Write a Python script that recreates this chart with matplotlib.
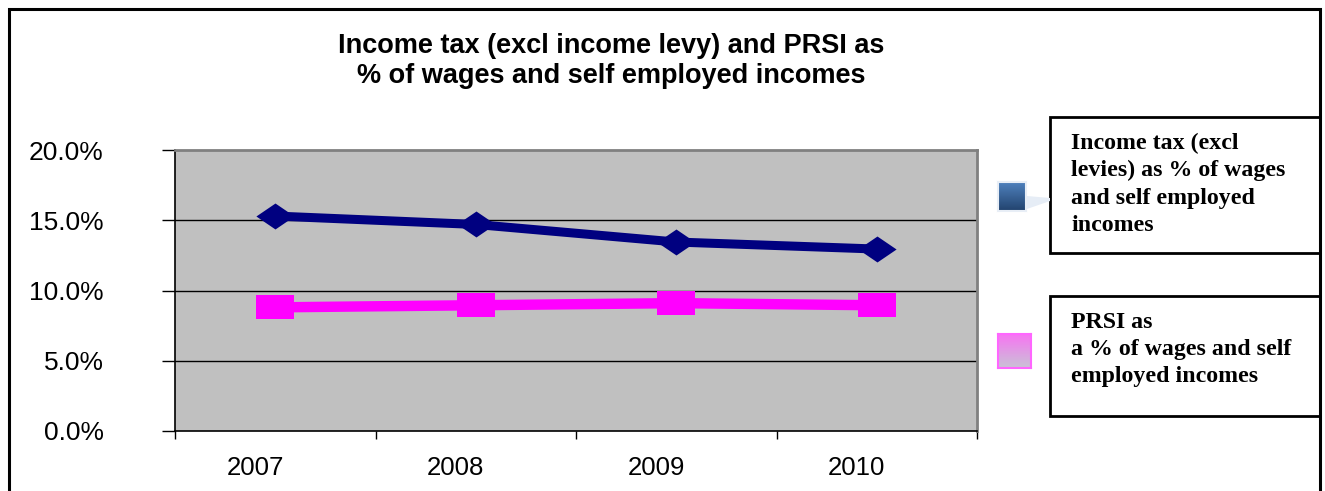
import matplotlib
matplotlib.use("Agg")
import matplotlib.pyplot as plt
import numpy as np
from matplotlib.path import Path
from matplotlib.patches import Rectangle, Polygon
from matplotlib.transforms import ScaledTranslation

# ---- data ----
years = ["2007", "2008", "2009", "2010"]
income_tax = [15.3, 14.7, 13.45, 12.95]
prsi = [8.8, 8.95, 9.1, 8.95]
y_ticks = [0, 5, 10, 15, 20]
y_tick_labels = ["0.0%", "5.0%", "10.0%", "15.0%", "20.0%"]
title_lines = ["Income tax (excl income levy) and PRSI as", "% of wages and self employed incomes"]
legend_income = "Income tax (excl\nlevies) as % of wages\nand self employed\nincomes"
legend_prsi = "PRSI as\na % of wages and self\nemployed incomes"

W, H = 1325, 491
DPI = 100
fig = plt.figure(figsize=(W / DPI, H / DPI), dpi=DPI)
fig.patch.set_facecolor("white")


def fx(px):
    return px / W


def fy(py):
    return 1 - py / H


# outer frame
fig.add_artist(Rectangle((fx(9), fy(495)), fx(1320) - fx(9), fy(9) - fy(495),
                         transform=fig.transFigure, fill=False, edgecolor="black",
                         linewidth=2.2, clip_on=False))

# plot area
ax = fig.add_axes([fx(175), fy(431), fx(977) - fx(175), fy(150) - fy(431)])
ax.set_facecolor("#c0c0c0")
ax.set_xlim(0, len(years))
ax.set_ylim(0, 20)

for v in y_ticks[1:-1]:
    ax.axhline(v, color="black", linewidth=1.0, zorder=1)

for s in ["top", "right"]:
    ax.spines[s].set_color("#808080")
    ax.spines[s].set_linewidth(2.0)
for s in ["left", "bottom"]:
    ax.spines[s].set_color("black")
    ax.spines[s].set_linewidth(1.2)

ax.set_yticks(y_ticks)
ax.set_yticklabels(y_tick_labels, fontsize=19, family="Liberation Sans")
ax.tick_params(axis="y", direction="out", length=9.4, width=1, pad=42)

ax.set_xticks(np.arange(len(years) + 1))
ax.set_xticklabels([])
ax.tick_params(axis="x", direction="out", length=6, width=1)

centers = np.arange(len(years)) + 0.5
shift = ScaledTranslation(-20 / DPI, 0, fig.dpi_scale_trans)
for c, lab in zip(centers, years):
    ax.text(c, -0.09, lab, transform=ax.get_xaxis_transform() + shift,
            ha="center", va="top", fontsize=18.5, family="Liberation Sans", clip_on=False)

diamond = Path([(0, 0.68), (1, 0), (0, -0.68), (-1, 0), (0, 0.68)],
               [Path.MOVETO, Path.LINETO, Path.LINETO, Path.LINETO, Path.CLOSEPOLY])
square = Path([(-1, -0.65), (1, -0.65), (1, 0.65), (-1, 0.65), (-1, -0.65)],
              [Path.MOVETO, Path.LINETO, Path.LINETO, Path.LINETO, Path.CLOSEPOLY])

ax.plot(centers, income_tax, color="#000080", linewidth=6.5, marker=diamond,
        markersize=27.5, markeredgewidth=0, solid_capstyle="butt", zorder=3, clip_on=False)
ax.plot(centers, prsi, color="#ff00ff", linewidth=7.5, marker=square,
        markersize=27, markeredgewidth=0, solid_capstyle="butt", zorder=3, clip_on=False)

# title
fig.text(fx(611), fy(46), title_lines[0], ha="center", va="center",
         fontsize=19.5, fontweight="bold", family="Liberation Sans")
fig.text(fx(611), fy(76), title_lines[1], ha="center", va="center",
         fontsize=19.5, fontweight="bold", family="Liberation Sans")

# legend boxes
for (y0, y1) in [(117, 253), (296, 416)]:
    fig.add_artist(Rectangle((fx(1050), fy(y1)), fx(1320) - fx(1050), fy(y0) - fy(y1),
                             transform=fig.transFigure, fill=False, edgecolor="black",
                             linewidth=2.0, clip_on=False))

fig.text(fx(1071), fy(133), legend_income, ha="left", va="top", fontsize=17.2,
         fontweight="bold", family="Liberation Serif", linespacing=1.38)
fig.text(fx(1071), fy(312), legend_prsi, ha="left", va="top", fontsize=17.2,
         fontweight="bold", family="Liberation Serif", linespacing=1.38)

# callout wedge
fig.add_artist(Polygon([(fx(1027), fy(196)), (fx(1050), fy(198)), (fx(1050), fy(201)), (fx(1027), fy(209))],
                       closed=True, transform=fig.transFigure, facecolor="#e6edf6",
                       edgecolor="none", clip_on=False))

# gradient swatches
def swatch(x0, y0, x1, y1, top, bottom, edge):
    sax = fig.add_axes([fx(x0), fy(y1), fx(x1) - fx(x0), fy(y0) - fy(y1)])
    t = np.linspace(0, 1, 50)[:, None]
    top = np.array(matplotlib.colors.to_rgb(top))
    bottom = np.array(matplotlib.colors.to_rgb(bottom))
    img = (1 - t)[..., None] * top + t[..., None] * bottom
    img = np.repeat(img, 2, axis=1)
    sax.imshow(img, aspect="auto", extent=(0, 1, 0, 1))
    sax.set_xticks([])
    sax.set_yticks([])
    for s in sax.spines.values():
        s.set_color(edge)
        s.set_linewidth(1.5)

swatch(998, 182, 1026, 211, "#4f81bd", "#22436e", "#e8eef6")
swatch(998, 334, 1031, 368, "#f774f2", "#c9c2d6", "#ff66ff")

fig.savefig("out.png", dpi=DPI)
